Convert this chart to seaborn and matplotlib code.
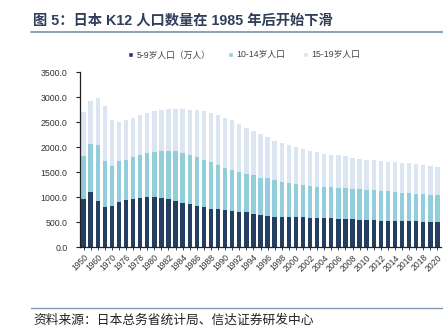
import matplotlib
matplotlib.use('Agg')
import matplotlib.pyplot as plt
from matplotlib.lines import Line2D
from matplotlib.patches import Patch
import seaborn as sns
import pandas as pd
import numpy as np

years = ['1950', '1955', '1960', '1965', '1970', '1975', '1976', '1977', '1978', '1979',
         '1980', '1981', '1982', '1983', '1984', '1985', '1986', '1987', '1988', '1989',
         '1990', '1991', '1992', '1993', '1994', '1995', '1996', '1997', '1998', '1999',
         '2000', '2001', '2002', '2003', '2004', '2005', '2006', '2007', '2008', '2009',
         '2010', '2011', '2012', '2013', '2014', '2015', '2016', '2017', '2018', '2019',
         '2020']

age_5_9 = [970, 1115, 936, 810, 826, 906, 953, 973, 990, 1006,
           1006, 986, 970, 923, 890, 860, 823, 806, 773, 760,
           755, 736, 716, 703, 670, 653, 633, 613, 606, 606,
           606, 606, 590, 586, 586, 580, 576, 570, 563, 553,
           546, 540, 533, 530, 526, 526, 523, 520, 516, 513,
           510]
age_10_14 = [866, 951, 1110, 916, 800, 820, 800, 837, 850, 884,
             900, 950, 956, 1003, 1000, 993, 987, 944, 937, 880,
             835, 817, 790, 770, 770, 740, 747, 733, 700, 674,
             660, 640, 636, 627, 614, 620, 617, 610, 613, 613,
             607, 606, 600, 590, 580, 567, 563, 546, 550, 533,
             536]
age_15_19 = [874, 870, 940, 1100, 920, 786, 793, 783, 805, 803,
             820, 820, 840, 840, 876, 902, 945, 976, 980, 1000,
             1000, 987, 967, 923, 883, 867, 820, 780, 780, 766,
             734, 717, 707, 690, 666, 653, 650, 643, 607, 600,
             603, 594, 603, 596, 594, 593, 597, 594, 577, 580,
             560]

series_labels = ['5-9岁人口（万人）', '10-14岁人口', '15-19岁人口']
yticks = [0, 500, 1000, 1500, 2000, 2500, 3000, 3500]

title = '图 5：日本 K12 人口数量在 1985 年后开始下滑'
source = '资料来源：日本总务省统计局、信达证券研发中心'

c_dark = '#243f60'
c_mid = '#92cddc'
c_light = '#dce6f2'

sns.set_theme(style='white')
plt.rcParams['font.family'] = ['Liberation Sans', 'Noto Sans CJK SC', 'DejaVu Sans']

df = pd.DataFrame({'year': years, 'a': age_5_9, 'b': age_10_14, 'c': age_15_19})
df['ab'] = df['a'] + df['b']
df['abc'] = df['ab'] + df['c']

fig = plt.figure(figsize=(4.43, 3.34), dpi=100)
ax = fig.add_axes([80 / 443, 1 - 247.3 / 334, 361 / 443, 175 / 334])

w = 0.62
sns.barplot(data=df, x='year', y='abc', color=c_light, saturation=1, width=w, ax=ax, linewidth=0)
sns.barplot(data=df, x='year', y='ab', color=c_mid, saturation=1, width=w, ax=ax, linewidth=0)
sns.barplot(data=df, x='year', y='a', color=c_dark, saturation=1, width=w, ax=ax, linewidth=0)

ax.set_xlim(-0.5, len(years) - 0.5)
ax.set_ylim(0, 3500)
ax.set_yticks(yticks)
ax.set_yticklabels([f'{v:.1f}' for v in yticks], fontsize=6.3, color='#333333')
ax.set_xticks(range(len(years)))
ax.set_xticklabels([y if i % 2 == 0 else '' for i, y in enumerate(years)],
                   rotation=45, ha='right', rotation_mode='anchor', fontsize=6.2, color='#333333')
ax.set_xlabel('')
ax.set_ylabel('')
for s in ['top', 'right']:
    ax.spines[s].set_visible(False)
for s in ['left', 'bottom']:
    ax.spines[s].set_color('#222222')
    ax.spines[s].set_linewidth(0.9)
ax.tick_params(axis='y', which='major', left=True, length=3, width=0.8, color='#222222', pad=6)
ax.tick_params(axis='x', which='major', bottom=True, length=2, width=0.6, color='#222222', pad=2)
ax.grid(False)

handles = [Patch(facecolor=c_dark), Patch(facecolor=c_mid), Patch(facecolor=c_light)]
fig.legend(handles, series_labels, loc='center', bbox_to_anchor=(244 / 443, 1 - 55 / 334),
           ncol=3, frameon=False, prop={'size': 6.3}, labelcolor='#404040',
           handlelength=0.6, handleheight=0.6, handletextpad=0.4, columnspacing=2.0)

fig.text(33 / 443, 1 - 21 / 334, title, fontsize=10.3, weight='bold', va='center', ha='left',
         color='#2f3f5a')
fig.add_artist(Line2D([31 / 443, 1.0], [1 - 31.7 / 334] * 2, color='#8497b0', lw=1.3))
fig.add_artist(Line2D([31 / 443, 1.0], [1 - 308.3 / 334] * 2, color='#8497b0', lw=1.0))
fig.text(33 / 443, 1 - 320.5 / 334, source, fontsize=9.2, style='italic', va='center', ha='left',
         color='#222222')

fig.savefig('out.png', dpi=100)
